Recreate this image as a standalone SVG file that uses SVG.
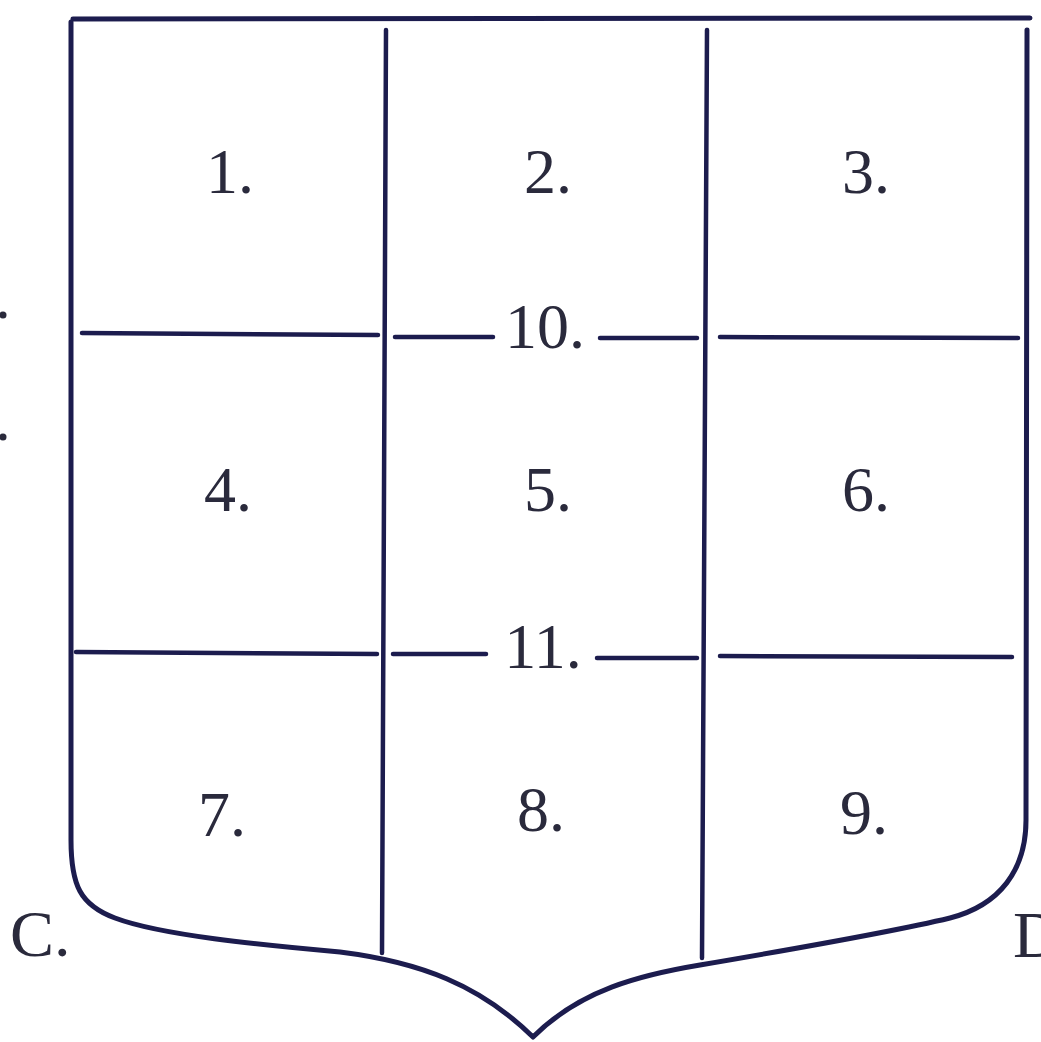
<svg xmlns="http://www.w3.org/2000/svg" width="1041" height="1042" viewBox="0 0 1041 1042">
<style>
.ln{fill:none;stroke:#1c1c4e;stroke-linecap:round;stroke-linejoin:round}
.b{stroke-width:5}
.v{stroke-width:4.5}
.h{stroke-width:4.5}
.t{font-family:"Liberation Serif","Times New Roman",serif;font-size:64px;fill:#2a2a3c;text-anchor:middle}
.m{font-family:"Liberation Serif","Times New Roman",serif;font-size:66px;fill:#2a2a3c}
</style>
<rect width="1041" height="1042" fill="#ffffff"/>
<g id="connectors">
<g id="shield">
<path class="ln b" d="M73,19 L1030,18"/>
<path class="ln b" d="M71,22 L71,840 C71,885 80,905 115,918 C160,935 260,945 340,952 C420,962 480,985 533,1037 C580,990 640,975 700,965 C800,948 900,930 950,918 C1000,905 1026,870 1026,820 L1027,30"/>
</g>
<g id="verticals">
<path class="ln v" d="M386,30 L382,953"/>
<path class="ln v" d="M707,30 L702,958"/>
</g>
<g id="line10">
<path class="ln h" d="M82,333 L378,335"/>
<path class="ln h" d="M395,337 L493,337"/>
<path class="ln h" d="M600,338 L697,338"/>
<path class="ln h" d="M720,337 L1018,338"/>
</g>
<g id="line11">
<path class="ln h" d="M76,652 L377,654"/>
<path class="ln h" d="M393,654 L486,654"/>
<path class="ln h" d="M597,658 L697,658"/>
<path class="ln h" d="M720,656 L1012,657"/>
</g>
</g>
<g id="n1"><text class="t" x="230" y="193">1.</text></g>
<g id="n2"><text class="t" x="548" y="193">2.</text></g>
<g id="n3"><text class="t" x="866" y="193">3.</text></g>
<g id="n4"><text class="t" x="228" y="511">4.</text></g>
<g id="n5"><text class="t" x="548" y="511">5.</text></g>
<g id="n6"><text class="t" x="866" y="511">6.</text></g>
<g id="n7"><text class="t" x="222" y="836">7.</text></g>
<g id="n8"><text class="t" x="541" y="831">8.</text></g>
<g id="n9"><text class="t" x="864" y="834">9.</text></g>
<g id="n10"><text class="t" x="545" y="348">10.</text></g>
<g id="n11"><text class="t" x="543" y="668">11.</text></g>
<g id="labelC"><text class="m" x="10" y="956">C.</text></g>
<g id="labelD"><text class="m" x="1013" y="957">D.</text></g>
<g id="margin">
<circle cx="3" cy="315" r="3.5" fill="#2a2a3c"/>
<circle cx="3" cy="437" r="3.5" fill="#2a2a3c"/>
</g>
</svg>
